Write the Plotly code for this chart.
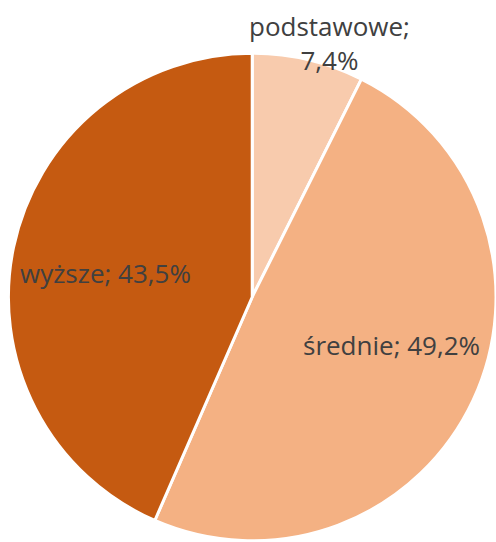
import plotly.graph_objects as go

categories = ["podstawowe", "średnie", "wyższe"]
values = [7.4, 49.2, 43.5]
colors = ["#F8CBAD", "#F4B183", "#C55A11"]
value_labels = ["7,4%", "49,2%", "43,5%"]

fig = go.Figure(go.Pie(
    labels=categories,
    values=values,
    sort=False,
    direction="clockwise",
    rotation=0,
    marker=dict(colors=colors, line=dict(color="white", width=3)),
    textinfo="none",
    hoverinfo="label+percent",
    showlegend=False,
    domain=dict(x=[0.017, 1.0], y=[0.002, 0.902]),
))

label_pos = [(329, 43, "{c};<br>{v}"), (391, 345, "{c}; {v}"), (105, 273, "{c}; {v}")]
for c, v, (px, py, tpl) in zip(categories, value_labels, label_pos):
    fig.add_annotation(
        x=px / 496, y=1 - py / 542, xref="paper", yref="paper",
        xanchor="center", yanchor="middle",
        text=tpl.format(c=c, v=v), showarrow=False,
        font=dict(family="Open Sans, Liberation Sans, sans-serif", size=26, color="#404040"),
        align="center",
    )

fig.update_layout(
    width=496, height=542,
    margin=dict(l=0, r=0, t=0, b=0),
    paper_bgcolor="white", plot_bgcolor="white",
)
fig.write_html("out.html", config={"displayModeBar": False},
               post_script="document.body.style.margin='0';")
